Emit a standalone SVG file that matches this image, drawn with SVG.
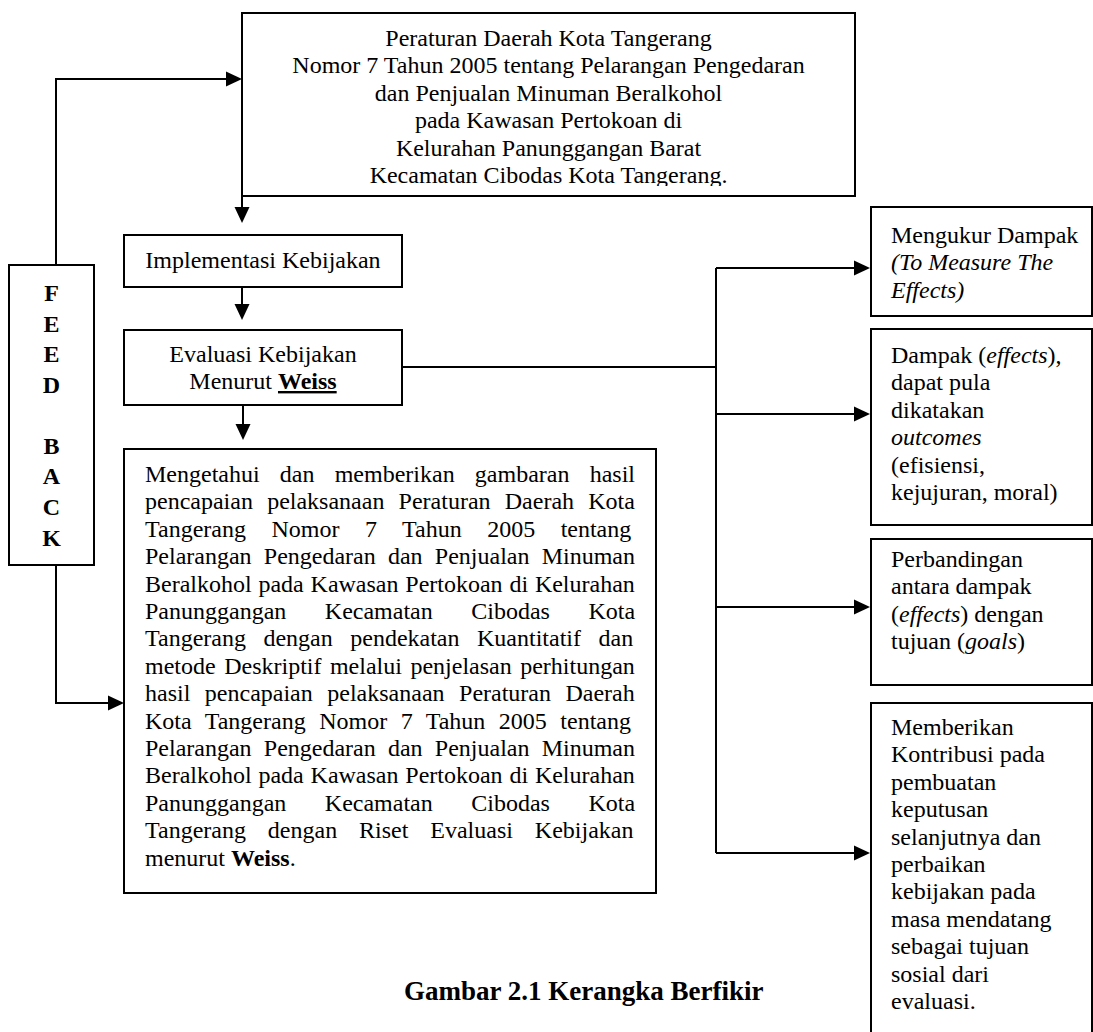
<svg xmlns="http://www.w3.org/2000/svg" width="1093" height="1032" viewBox="0 0 1093 1032">
<style>
.box{fill:#fff;stroke:#000;stroke-width:2}
.t{font-family:"Liberation Serif","Times New Roman",serif;font-size:24px;fill:#000}
.c{text-anchor:middle}
.b{font-weight:bold}
.i{font-style:italic}
.conn{stroke:#000;stroke-width:2;fill:none}
</style>
<defs>
<marker id="ah" markerUnits="userSpaceOnUse" markerWidth="17" markerHeight="16" refX="8" refY="8" orient="auto">
<path d="M0,0.5 L16,8 L0,15.5 Z" fill="#000"/>
</marker>
<clipPath id="topclip"><rect x="243" y="14" width="611" height="172"/></clipPath>
</defs>
<rect width="1093" height="1032" fill="#fff"/>

<g id="connectors">
<path class="conn" d="M56,265 V79 H234" marker-end="url(#ah)"/>
<path class="conn" d="M242,196 V215" marker-end="url(#ah)"/>
<path class="conn" d="M242,287 V312" marker-end="url(#ah)"/>
<path class="conn" d="M243,405 V432" marker-end="url(#ah)"/>
<path class="conn" d="M56,565 V703 H116" marker-end="url(#ah)"/>
<path class="conn" d="M402,367 H716 M716,268 V853"/>
<path class="conn" d="M716,268 H862" marker-end="url(#ah)"/>
<path class="conn" d="M716,414 H862" marker-end="url(#ah)"/>
<path class="conn" d="M716,607 H862" marker-end="url(#ah)"/>
<path class="conn" d="M716,853 H862" marker-end="url(#ah)"/>
</g>

<g id="node-peraturan">
<rect class="box" x="242" y="13" width="613" height="183"/>
<g clip-path="url(#topclip)">
<text class="t c" x="548.5" y="46">Peraturan Daerah Kota Tangerang</text>
<text class="t c" x="548.5" y="73.4">Nomor 7 Tahun 2005 tentang Pelarangan Pengedaran</text>
<text class="t c" x="548.5" y="100.8">dan Penjualan Minuman Beralkohol</text>
<text class="t c" x="548.5" y="128.2">pada Kawasan Pertokoan di</text>
<text class="t c" x="548.5" y="155.6">Kelurahan Panunggangan Barat</text>
<text class="t c" x="548.5" y="183">Kecamatan Cibodas Kota Tangerang.</text>
</g>
</g>

<g id="node-feedback">
<rect class="box" x="9" y="265" width="85" height="300"/>
<text class="t c b" x="51.5" y="301">F</text>
<text class="t c b" x="51.5" y="331.5">E</text>
<text class="t c b" x="51.5" y="362">E</text>
<text class="t c b" x="51.5" y="392.5">D</text>
<text class="t c b" x="51.5" y="453.5">B</text>
<text class="t c b" x="51.5" y="484">A</text>
<text class="t c b" x="51.5" y="515">C</text>
<text class="t c b" x="51.5" y="546">K</text>
</g>

<g id="node-implementasi">
<rect class="box" x="124" y="235" width="278" height="52"/>
<text class="t c" x="263" y="268">Implementasi Kebijakan</text>
</g>

<g id="node-evaluasi">
<rect class="box" x="124" y="330" width="278" height="75"/>
<text class="t c" x="263" y="362">Evaluasi Kebijakan</text>
<text class="t c" x="263" y="389">Menurut <tspan class="b" text-decoration="underline">Weiss</tspan></text>
</g>

<g id="node-mengetahui">
<rect class="box" x="124" y="449" width="532" height="444"/>
<text class="t" x="145" y="482" word-spacing="14.2">Mengetahui dan memberikan gambaran hasil</text>
<text class="t" x="145" y="509.4" word-spacing="8.2">pencapaian pelaksanaan Peraturan Daerah Kota</text>
<text class="t" x="145" y="536.8" word-spacing="19.5">Tangerang Nomor 7 Tahun 2005 tentang</text>
<text class="t" x="145" y="564.2" word-spacing="6.2">Pelarangan Pengedaran dan Penjualan Minuman</text>
<text class="t" x="145" y="591.6" word-spacing="0.8">Beralkohol pada Kawasan Pertokoan di Kelurahan</text>
<text class="t" x="145" y="619" word-spacing="32.5">Panunggangan Kecamatan Cibodas Kota</text>
<text class="t" x="145" y="646.4" word-spacing="11.5">Tangerang dengan pendekatan Kuantitatif dan</text>
<text class="t" x="145" y="673.8" word-spacing="2.5">metode Deskriptif melalui penjelasan perhitungan</text>
<text class="t" x="145" y="701.2" word-spacing="8.5">hasil pencapaian pelaksanaan Peraturan Daerah</text>
<text class="t" x="145" y="728.6" word-spacing="7.5">Kota Tangerang Nomor 7 Tahun 2005 tentang</text>
<text class="t" x="145" y="756" word-spacing="6.2">Pelarangan Pengedaran dan Penjualan Minuman</text>
<text class="t" x="145" y="783.4" word-spacing="0.8">Beralkohol pada Kawasan Pertokoan di Kelurahan</text>
<text class="t" x="145" y="810.8" word-spacing="32.5">Panunggangan Kecamatan Cibodas Kota</text>
<text class="t" x="145" y="838.2" word-spacing="15.9">Tangerang dengan Riset Evaluasi Kebijakan</text>
<text class="t" x="145" y="865.6">menurut <tspan class="b">Weiss</tspan>.</text>
</g>

<g id="node-mengukur">
<rect class="box" x="871" y="207" width="221" height="109"/>
<text class="t" x="891" y="243">Mengukur Dampak</text>
<text class="t i" x="891" y="270.4">(To Measure The</text>
<text class="t i" x="891" y="297.8">Effects)</text>
</g>

<g id="node-dampak">
<rect class="box" x="871" y="329" width="221" height="196"/>
<text class="t" x="891" y="363">Dampak (<tspan class="i">effects</tspan>),</text>
<text class="t" x="891" y="390.4">dapat pula</text>
<text class="t" x="891" y="417.8">dikatakan</text>
<text class="t i" x="891" y="445.2">outcomes</text>
<text class="t" x="891" y="472.6">(efisiensi,</text>
<text class="t" x="891" y="500">kejujuran, moral)</text>
</g>

<g id="node-perbandingan">
<rect class="box" x="871" y="539" width="221" height="146"/>
<text class="t" x="891" y="567">Perbandingan</text>
<text class="t" x="891" y="594.4">antara dampak</text>
<text class="t" x="891" y="621.8">(<tspan class="i">effects</tspan>) dengan</text>
<text class="t" x="891" y="649.2">tujuan (<tspan class="i">goals</tspan>)</text>
</g>

<g id="node-memberikan">
<rect class="box" x="871" y="703" width="221" height="340"/>
<text class="t" x="891" y="735">Memberikan</text>
<text class="t" x="891" y="762.4">Kontribusi pada</text>
<text class="t" x="891" y="789.8">pembuatan</text>
<text class="t" x="891" y="817.2">keputusan</text>
<text class="t" x="891" y="844.6">selanjutnya dan</text>
<text class="t" x="891" y="872">perbaikan</text>
<text class="t" x="891" y="899.4">kebijakan pada</text>
<text class="t" x="891" y="926.8">masa mendatang</text>
<text class="t" x="891" y="954.2">sebagai tujuan</text>
<text class="t" x="891" y="981.6">sosial dari</text>
<text class="t" x="891" y="1009">evaluasi.</text>
</g>

<text class="t b" x="404" y="1000" style="font-size:27px">Gambar 2.1 Kerangka Berfikir</text>
</svg>
